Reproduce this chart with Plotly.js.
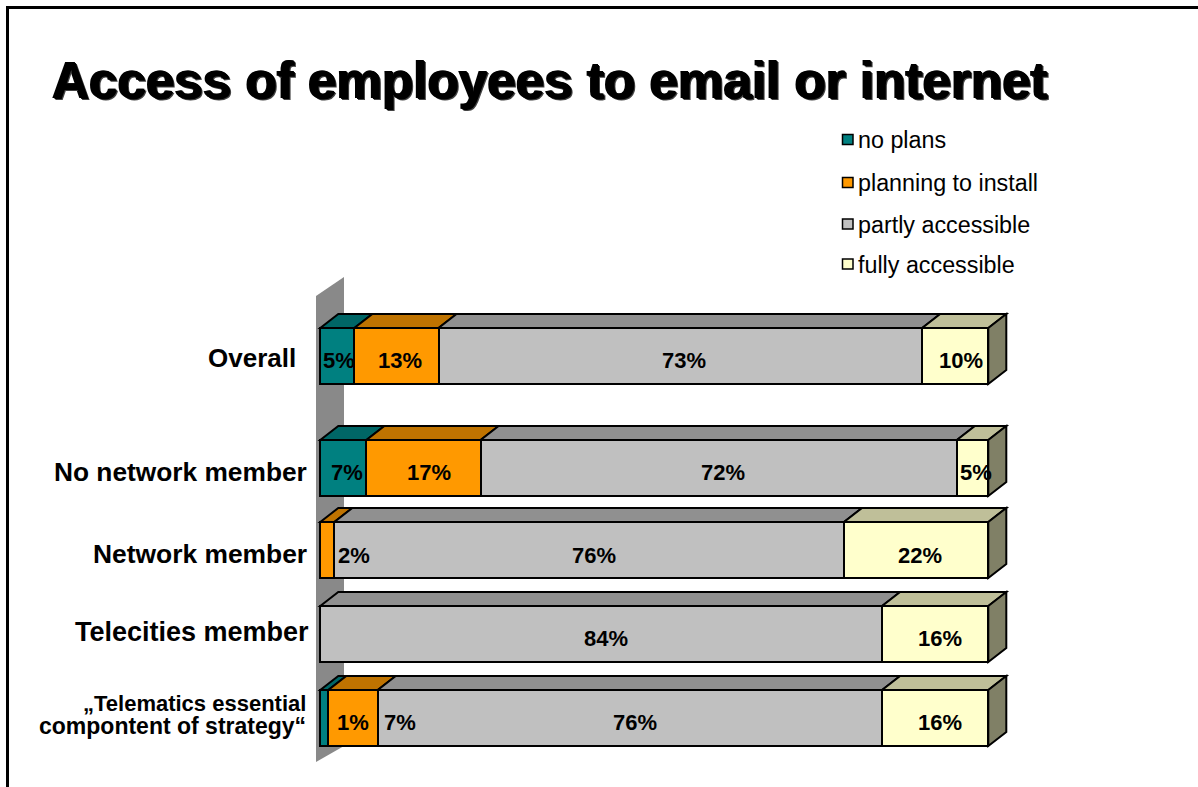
<!DOCTYPE html>
<html><head><meta charset="utf-8">
<script src="https://cdn.plot.ly/plotly-3.0.1.min.js"></script>
<style>html,body{margin:0;padding:0;background:#fff}</style>
</head><body><div id="chart" style="width:1198px;height:787px"></div>
<script>
var titleText = 'Access of employees to email or internet';
var categories = ['„Telematics essential<br>compontent of strategy“', 'Telecities member', 'Network member', 'No network member', 'Overall'];
var seriesNames = ['no plans', 'planning to install', 'partly accessible', 'fully accessible'];
var noPlans  = [1.2, 0, 0, 6.9, 5.1];
var planning = [7.4, 0, 2.1, 17.1, 12.6];
var partly   = [75.5, 84.1, 76.3, 71.3, 72.4];
var fully    = [15.9, 15.9, 21.6, 4.7, 9.9];
var noPlansLabels  = ['1%', '', '', '7%', '5%'];
var planningLabels = ['7%', '', '2%', '17%', '13%'];
var partlyLabels   = ['76%', '84%', '76%', '72%', '73%'];
var fullyLabels    = ['16%', '16%', '22%', '5%', '10%'];

var W = 1198, H = 787;
var FONT = '"Liberation Sans", Arial, sans-serif';
var frontColors = ['#008080', '#FF9900', '#C0C0C0', '#FFFFCC'];
var topColors   = ['#006666', '#BF7300', '#909090', '#BFBF99'];
var sideColor = '#808066';
var series = [noPlans, planning, partly, fully];
var labels = [noPlansLabels, planningLabels, partlyLabels, fullyLabels];

// layout scale
var PX0 = 320.3, PXU = 6.68;          // x pixel of value 0, pixels per unit
var Y0 = 718, PYU = 84;               // y pixel of row 0, pixels per row
var rowPos = [0, 1, 2, 2.976, 4.31];  // row placement
var barW = 0.667;
var DX = 18 / PXU, DY = 14 / PYU;     // depth of the 3-D extrusion
var plotL = 300, plotR = 1030, plotT = 260, plotB = 775;
var xRange = [(plotL - PX0) / PXU, (plotR - PX0) / PXU];
var yRange = [(Y0 - plotB) / PYU, (Y0 - plotT) / PYU];
function px(v){ return v / W; }
function py(v){ return 1 - v / H; }

// nudges of the printed labels, in pixels
var xNudge = [[29,0,0,4,2],[47,0,27,5,4],[5.5,5,5,4,4],[5,5,4,3,5.5]];
var yNudge = [-4,-4,-5,-4,-5];
var catLabelRight = [0, 311, 309, 309, 298];
var catLabelY = [0, 632, 554, 472, 358];
var catFont = [0, 27, 26.4, 26.3, 26];

var traces = series.map(function(vals, i){
  return {type:'bar', orientation:'h', name:seriesNames[i],
    x:vals.map(function(v){return v>0?v:null;}), y:rowPos, width:barW,
    marker:{color:frontColors[i], line:{color:'#000',width:2}},
    hoverinfo:'name+x', showlegend:false};
});

function poly(pts){
  return 'M' + pts.map(function(p){return p[0]+','+p[1];}).join('L') + 'Z';
}
var shapes = [];
// back wall
var wallL = (316 - PX0) / PXU, wallR = (344 - PX0) / PXU;
shapes.push({type:'path', xref:'x', yref:'y', layer:'below', line:{width:0}, fillcolor:'#898989',
  path: poly([[wallL,(Y0-296)/PYU],[wallR,(Y0-277)/PYU],[wallR,(Y0-746)/PYU],[wallL,(Y0-762)/PYU]])});
// top and side faces, from the stacked values
rowPos.forEach(function(y, r){
  var top = y + barW/2, bot = y - barW/2, cum = 0;
  series.forEach(function(vals, i){
    var v = vals[r];
    if (v > 0) {
      shapes.push({type:'path', xref:'x', yref:'y', layer:'below', fillcolor:topColors[i],
        line:{color:'#000',width:2},
        path: poly([[cum,top],[cum+v,top],[cum+v+DX,top+DY],[cum+DX,top+DY]])});
    }
    cum += v;
  });
  shapes.push({type:'path', xref:'x', yref:'y', layer:'below', fillcolor:sideColor,
    line:{color:'#000',width:2},
    path: poly([[cum,top],[cum+DX,top+DY],[cum+DX,bot+DY],[cum,bot]])});
});
// slide frame
shapes.push({type:'line', xref:'paper', yref:'paper', x0:px(7.5), x1:px(7.5), y0:py(6), y1:py(787), line:{color:'#000',width:3}});
shapes.push({type:'line', xref:'paper', yref:'paper', x0:px(6), x1:1, y0:py(7.5), y1:py(7.5), line:{color:'#000',width:3}});

var annotations = [];
// printed values
rowPos.forEach(function(y, r){
  var cum = 0;
  series.forEach(function(vals, i){
    var v = vals[r];
    if (labels[i][r]) {
      annotations.push({xref:'x', yref:'y', x:cum+v/2, y:y, text:labels[i][r], showarrow:false,
        xshift:xNudge[i][r], yshift:yNudge[r], xanchor:'center', yanchor:'middle',
        font:{family:FONT, size:22, color:'#000', weight:700}});
    }
    cum += v;
  });
});
// category labels
categories.forEach(function(c, r){
  var parts = c.split('<br>');
  if (parts.length > 1) {
    annotations.push({xref:'paper', yref:'paper', x:px(308), y:py(703), text:parts[0], showarrow:false, xanchor:'right', yanchor:'middle', font:{family:FONT,size:22,color:'#000',weight:700}});
    annotations.push({xref:'paper', yref:'paper', x:px(308), y:py(726), text:parts[1], showarrow:false, xanchor:'right', yanchor:'middle', font:{family:FONT,size:23,color:'#000',weight:700}});
  } else {
    annotations.push({xref:'paper', yref:'paper', x:px(catLabelRight[r]), y:py(catLabelY[r]), text:c, showarrow:false, xanchor:'right', yanchor:'middle', font:{family:FONT,size:catFont[r],color:'#000',weight:700}});
  }
});
// key
var keyY = [139.5, 182.5, 224, 264];
seriesNames.forEach(function(n, i){
  shapes.push({type:'rect', xref:'paper', yref:'paper', x0:px(842.5), x1:px(853), y0:py(keyY[i]-5), y1:py(keyY[i]+5), fillcolor:frontColors[i], line:{color:'#000',width:1.5}});
  annotations.push({xref:'paper', yref:'paper', x:px(856), y:py(keyY[i]+0.5), text:n, showarrow:false, xanchor:'left', yanchor:'middle', font:{family:FONT,size:23.3,color:'#000'}});
});

var layout = {
  width:W, height:H, autosize:false,
  margin:{l:0,r:0,t:0,b:0,pad:0},
  paper_bgcolor:'#fff', plot_bgcolor:'rgba(0,0,0,0)',
  barmode:'stack', showlegend:false,
  title:{text:titleText, x:52/W, xanchor:'left', xref:'paper', y:py(80), yanchor:'middle', yref:'paper',
    font:{family:FONT, size:51.2, color:'#000', weight:700, shadow:'1px 1px 0 #000, 2px 2px 0 #444, -1px 0 0 #000'}},
  xaxis:{domain:[plotL/W, plotR/W], range:xRange, visible:false, fixedrange:true},
  yaxis:{domain:[1-plotB/H, 1-plotT/H], range:yRange, visible:false, fixedrange:true},
  shapes:shapes, annotations:annotations
};
Plotly.newPlot('chart', traces, layout, {displayModeBar:false, staticPlot:true});
</script></body></html>
